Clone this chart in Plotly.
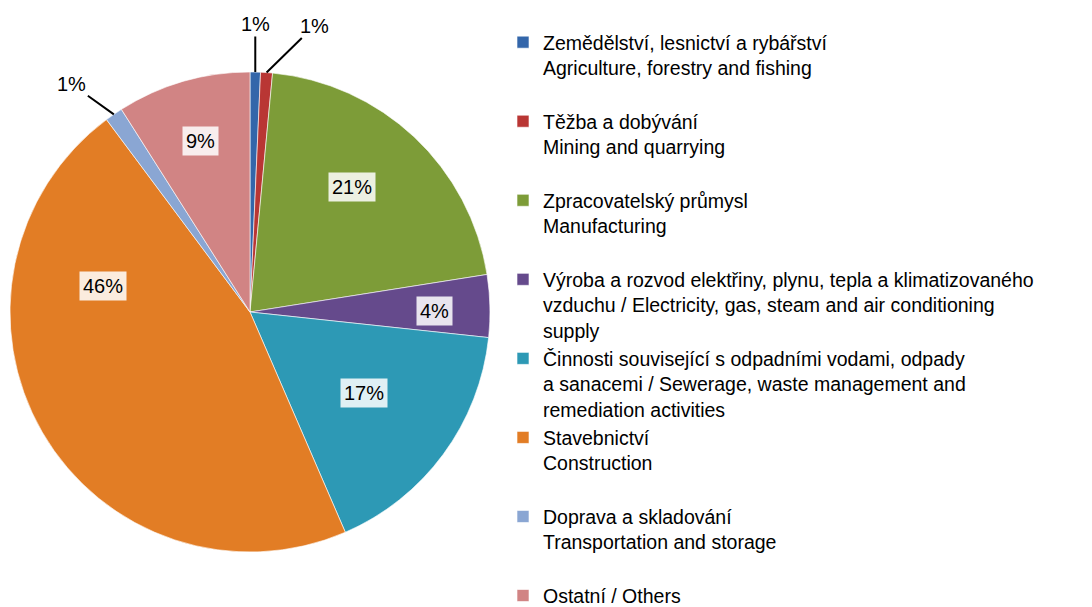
import math
import plotly.graph_objects as go

W, H = 1092, 607
OFF = 8  # page body margin of the html output

labels = [
    "Zemědělství, lesnictví a rybářství<br>Agriculture, forestry and fishing<br> ",
    "Těžba a dobývání<br>Mining and quarrying<br> ",
    "Zpracovatelský průmysl<br>Manufacturing<br> ",
    "Výroba a rozvod elektřiny, plynu, tepla a klimatizovaného<br>vzduchu / Electricity, gas, steam and air conditioning<br>supply",
    "Činnosti související s odpadními vodami, odpady<br>a sanacemi / Sewerage, waste management and<br>remediation activities",
    "Stavebnictví<br>Construction<br> ",
    "Doprava a skladování<br>Transportation and storage<br> ",
    "Ostatní / Others",
]
values = [0.7, 0.8, 21.0, 4.2, 16.8, 46.3, 1.2, 9.0]
colors = ["#3366AA", "#B93634", "#7D9C38", "#654A8C", "#2D99B5", "#E27D25", "#8AA6D3", "#D18484"]

# label placement styles: inside flag, radial fraction, angle shift (deg), outside offsets (px)
inside = [False, False, True, True, True, True, False, True]
radial = [0, 0, 0.67, 0.77, 0.58, 0.62, 0, 0.74]
ashift = [0, 0, -4, 1, -1, 40, 0, 0]
out_off = {0: (0, -48), 1: (48, -47), 6: (-42, -30)}

# pie geometry (figure pixels)
cx, cy, R = 250 - OFF, 312 - OFF, 240
dom_x = [(cx - R) / W, (cx + R) / W]
dom_y = [1 - (cy + R) / H, 1 - (cy - R) / H]

fig = go.Figure(go.Pie(
    labels=labels, values=values, sort=False, direction="clockwise", rotation=0,
    marker=dict(colors=colors, line=dict(color="rgba(255,255,255,0.6)", width=1)),
    textinfo="none", hoverinfo="label+percent",
    domain=dict(x=dom_x, y=dom_y),
))

lab_font = dict(size=20, color="black", family="Liberation Sans, Arial")
total = sum(values)
cum = 0.0
anns = []
for i, v in enumerate(values):
    mid = (cum + v / 2) / total * 2 * math.pi
    cum += v
    pct = f"{round(v / total * 100)}%"
    if inside[i]:
        a = mid + math.radians(ashift[i])
        r = R * radial[i]
        px = cx + r * math.sin(a)
        py = cy - r * math.cos(a)
        anns.append(dict(x=px / W, y=1 - py / H, xref="paper", yref="paper",
                         xanchor="center", yanchor="middle",
                         text=pct, showarrow=False, bgcolor="rgba(255,255,255,0.85)",
                         borderpad=3, font=lab_font))
    else:
        px = cx + R * math.sin(mid)
        py = cy - R * math.cos(mid)
        ax, ay = out_off[i]
        anns.append(dict(x=px / W, y=1 - py / H, xref="paper", yref="paper",
                         text=pct, showarrow=True, arrowhead=0, arrowwidth=2,
                         arrowcolor="black", ax=ax, ay=ay, standoff=0,
                         font=lab_font))

fig.update_layout(
    width=W, height=H,
    margin=dict(l=0, r=0, t=0, b=0),
    paper_bgcolor="white", plot_bgcolor="white",
    font=dict(family="Liberation Sans, Arial", size=20, color="black"),
    annotations=anns,
    showlegend=True,
    legend=dict(x=495 / W, y=1 - 60 / H, xanchor="left", yanchor="top",
                valign="top", font=dict(size=19.5, color="black"),
                bgcolor="rgba(0,0,0,0)", tracegroupgap=0),
)

fig.write_html("out.html")
